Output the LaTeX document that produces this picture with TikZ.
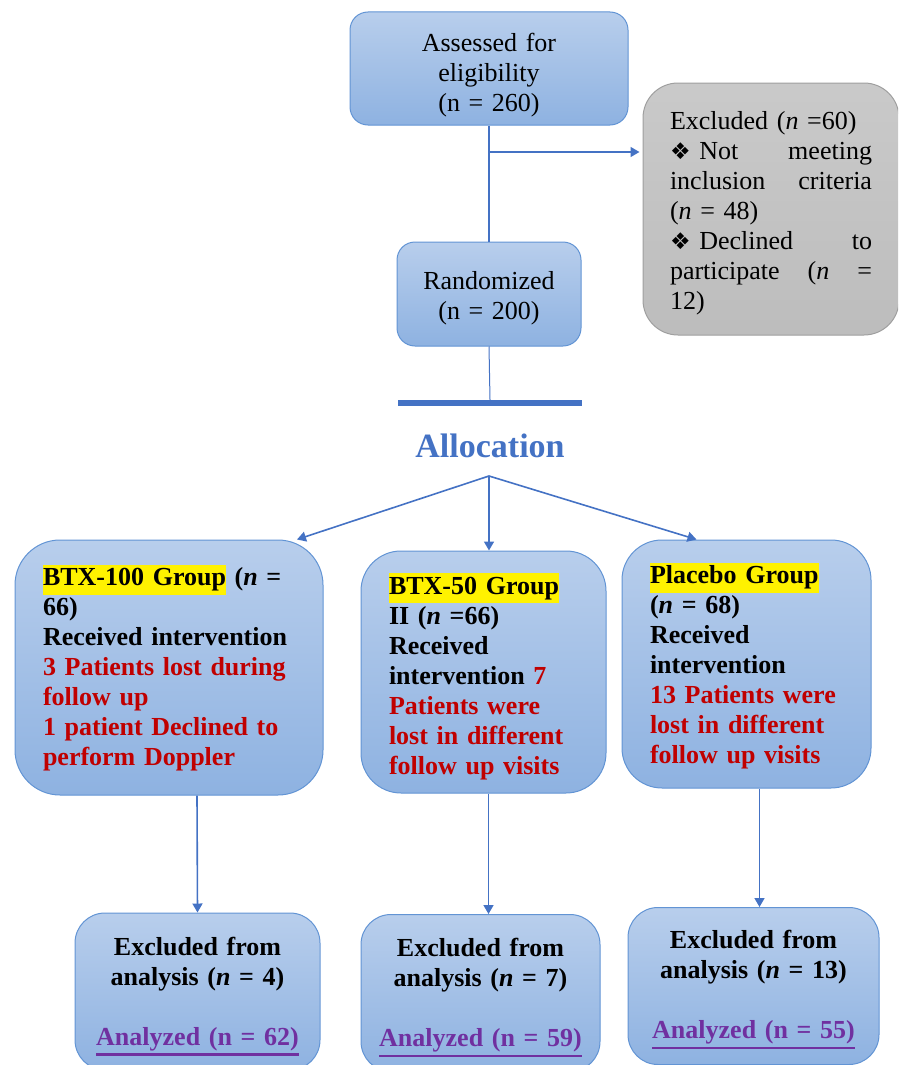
\documentclass[tikz,border=0pt]{standalone}
\usepackage{fontspec}
\setmainfont{Liberation Serif}
\newfontfamily\dingfont{DejaVu Sans}
\usetikzlibrary{arrows.meta,positioning}
\definecolor{boxtop}{RGB}{184,206,236}
\definecolor{boxbot}{RGB}{142,178,225}
\definecolor{boxline}{RGB}{98,148,212}
\definecolor{linkblue}{RGB}{68,114,196}
\definecolor{lostred}{RGB}{192,0,0}
\definecolor{anapurple}{RGB}{112,48,160}
\newcommand\hl[1]{{\setlength{\fboxsep}{0pt}\colorbox{yellow}{\strut#1}}}
\newcommand\dm{{\dingfont\fontsize{23}{30}\selectfont ❖}}
\newcommand\ana[1]{\leavevmode{\color{anapurple}\vtop{\hbox{#1}\kern2pt\hrule height 2.5pt}}}
\newcommand\lift[1]{\rule{0pt}{#1}}

\begin{document}
\begin{tikzpicture}[x=1pt,y=-1pt,
    box/.style={draw=boxline, line width=1pt, rounded corners=#1,
        top color=boxtop, bottom color=boxbot, inner sep=0pt,
        font=\fontsize{26}{30}\selectfont},
    grp/.style={box=#1, align=left, font=\bfseries\fontsize{26}{30}\selectfont},
    res/.style={box=#1, align=center, text width=230, minimum height=157,
        font=\bfseries\fontsize{26}{30}\selectfont},
    link/.style={draw=linkblue, line width=1.6pt},
    arr/.style={link, -{Triangle[length=9pt,width=10pt]}}]
    \clip (0,0) rectangle (898,1065);
    % enrolment
    \node[box=18, minimum width=278, minimum height=113, text width=250, align=center] (assess) at (489,68.5) {\lift{31pt}Assessed for\\eligibility\\(n = 260)};
    \node[draw=gray!75, line width=1pt, rounded corners=35, top color=gray!42, bottom color=gray!52,
          inner sep=0pt, minimum width=256, minimum height=252, text width=202, align=left,
          font=\fontsize{26}{30}\selectfont] (excl) at (771,209)
          {\lift{27pt}Excluded (\textit{n} =60)\\
           \dm\ Not\hfill meeting\\
           inclusion\hfill criteria\\
           (\textit{n} = 48)\\
           \dm\ Declined\hfill to\\
           participate\hfill(\textit{n}\hfill=\\
           12)};
    \node[box=18, minimum width=184, minimum height=104, text width=170, align=center] (rand) at (489,294) {\lift{27pt}Randomized\\(n = 200)};
    \node[fill=linkblue, minimum width=184, minimum height=6, inner sep=0pt] (bar) at (490,403) {};
    \node[font=\bfseries\fontsize{34}{40}\selectfont, text=linkblue] (alloc) at (490,446) {Allocation};
    \coordinate (branch) at (489,152);
    \coordinate (split) at (489,476);
    \draw[link] (assess.south) -- (rand.north);
    \draw[arr, shorten >=3pt] (branch) -- (branch -| excl.west);
    \draw[link, line width=1pt] (rand.south) -- (bar.north);

    % groups
    \node[grp=45, minimum width=308, minimum height=255, text width=252] (g100) at (169,667.5)
        {\lift{22pt}\hl{BTX-100 Group} (\textit{n} =\\
         66)\\
         Received intervention\\
         {\color{lostred}3 Patients lost during\\
         follow up\\
         1 patient Declined to\\
         perform Doppler}};
    \node[grp=40, minimum width=245, minimum height=242, text width=189] (g50) at (483.5,672)
        {\lift{30pt}\hl{BTX-50 Group}\\
         II (\textit{n} =66)\\
         Received\\
         intervention {\color{lostred}7\\
         Patients were\\
         lost in different\\
         follow up visits}};
    \node[grp=40, minimum width=249, minimum height=248, text width=193] (gpl) at (746.5,664)
        {\lift{25pt}\hl{Placebo Group}\\
         (\textit{n} = 68)\\
         Received\\
         intervention\\
         {\color{lostred}13 Patients were\\
         lost in different\\
         follow up visits}};
    \draw[arr] (split) -- ([xshift=128]g100.north);
    \draw[arr] (split) -- (split |- g50.north);
    \draw[arr] (split) -- ([xshift=-50]gpl.north);

    % analysis
    \node[res=30, minimum width=245] (b100) at (197.5,991.5)
        {\lift{28pt}Excluded from\\analysis (\textit{n} = 4)\\[30pt]\ana{Analyzed (n = 62)}};
    \node[res=30, minimum width=239] (b50) at (480.5,993)
        {\lift{28pt}Excluded from\\analysis (\textit{n} = 7)\\[30pt]\ana{Analyzed (n = 59)}};
    \node[res=30, minimum width=251] (bpl) at (753.5,986)
        {\lift{26pt}Excluded from\\analysis (\textit{n} = 13)\\[30pt]\ana{Analyzed (n = 55)}};
    \draw[arr] ([xshift=28]g100.south) -- (b100.north);
    \draw[arr] ([xshift=5]g50.south) -- ([xshift=5]g50.south |- b50.north);
    \draw[arr] ([xshift=13]gpl.south) -- ([xshift=13]gpl.south |- bpl.north);
\end{tikzpicture}
\end{document}
